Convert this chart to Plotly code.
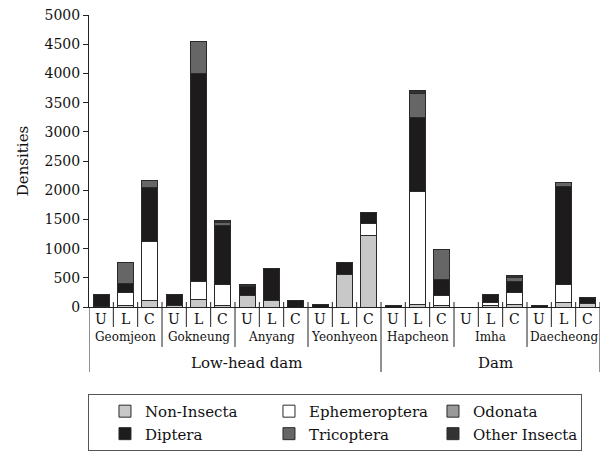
import plotly.graph_objects as go

# ---- data ----
sites = ["Geomjeon", "Gokneung", "Anyang", "Yeonhyeon", "Hapcheon", "Imha", "Daecheong"]
positions = ["U", "L", "C"]
groups = ["Low-head dam", "Dam"]
group_sites = [4, 3]  # number of sites in each group

non_insecta   = [15, 30, 103, 25, 120, 20, 194, 103, 0, 0, 564, 1226, 0, 51, 20, 0, 30, 51, 0, 80, 68]
ephemeroptera = [0, 210, 1026, 0, 325, 368, 0, 0, 0, 0, 0, 199, 0, 1922, 174, 0, 50, 200, 0, 308, 0]
odonata       = [0] * 21
diptera       = [207, 170, 912, 186, 3558, 1010, 160, 553, 103, 51, 206, 194, 20, 1265, 279, 0, 142, 194, 20, 1670, 92]
tricoptera    = [0, 360, 126, 0, 535, 50, 0, 0, 0, 0, 0, 0, 0, 417, 514, 0, 0, 68, 0, 69, 0]
other_insecta = [0, 0, 0, 0, 0, 30, 34, 0, 0, 0, 0, 0, 0, 45, 0, 0, 0, 29, 0, 0, 0]

series = [
    ("Non-Insecta", non_insecta, "#c8c8c8"),
    ("Ephemeroptera", ephemeroptera, "#ffffff"),
    ("Odonata", odonata, "#999999"),
    ("Diptera", diptera, "#1e1b1c"),
    ("Tricoptera", tricoptera, "#666666"),
    ("Other Insecta", other_insecta, "#333333"),
]

FONT = "DejaVu Serif"
n = len(sites) * len(positions)
xs = list(range(n))

fig = go.Figure()
for name, vals, col in series:
    fig.add_trace(go.Bar(
        x=xs, y=vals, name=name, width=0.66,
        marker=dict(color=col, line=dict(color="#2a2a2a", width=1)),
    ))

H = 292.3  # plot height in px


def py(p):
    return (307 - p) / H


shapes = []
annotations = []
site_bounds = set()
group_bounds = {-0.5}
k = 0
for g, cnt in zip(groups, group_sites):
    k += cnt * 3
    group_bounds.add(k - 0.5)
for s in range(1, len(sites)):
    site_bounds.add(s * 3 - 0.5)

for b in [i - 0.5 for i in range(n + 1)]:
    if b in group_bounds:
        y0, y1 = (py(302) if b != -0.5 else 0), py(372)
    elif b in site_bounds:
        y0, y1 = py(302), py(347)
    else:
        y0, y1 = py(302), py(327)
    shapes.append(dict(type="line", xref="x", yref="paper", x0=b, x1=b, y0=y0, y1=y1,
                       line=dict(color="#222222", width=1)))

for i in range(n):
    annotations.append(dict(x=i, y=py(319), xref="x", yref="paper", text=positions[i % 3],
                            showarrow=False, font=dict(family=FONT, size=14, color="#111"),
                            xanchor="center", yanchor="middle"))
for si, s in enumerate(sites):
    annotations.append(dict(x=si * 3 + 1, y=py(337), xref="x", yref="paper", text=s,
                            showarrow=False, font=dict(family=FONT, size=12, color="#111"),
                            xanchor="center", yanchor="middle"))
group_x = [6.0, 16.2]
for gx, g in zip(group_x, groups):
    annotations.append(dict(x=gx, y=py(363), xref="x", yref="paper", text=g,
                            showarrow=False, font=dict(family=FONT, size=15, color="#111"),
                            xanchor="center", yanchor="middle"))

fig.update_layout(
    width=605, height=455,
    margin=dict(l=89, r=5, t=15, b=148, autoexpand=False),
    barmode="stack",
    plot_bgcolor="white", paper_bgcolor="white",
    font=dict(family=FONT, size=14, color="#111"),
    showlegend=True,
    legend=dict(
        orientation="h", x=-0.002, y=py(394), xanchor="left", yanchor="top",
        bordercolor="#555555", borderwidth=1,
        font=dict(family=FONT, size=15, color="#111"),
        entrywidth=103, entrywidthmode="pixels",
        itemwidth=30, indentation=16,
        traceorder="normal",
    ),
    xaxis=dict(range=[-0.5, n - 0.5], showticklabels=False, ticks="", showgrid=False,
               zeroline=False, showline=True, linecolor="#222222", linewidth=1, automargin=False),
    yaxis=dict(range=[0, 5000], dtick=500, ticks="outside", ticklen=5, tickcolor="#222222",
               showgrid=False, zeroline=False, showline=True, linecolor="#222222", linewidth=1,
               automargin=False,
               title=dict(text="Densities", font=dict(family=FONT, size=15), standoff=12),
               tickfont=dict(family=FONT, size=14)),
    shapes=shapes,
    annotations=annotations,
)

fig.write_html("out.html", config={"displayModeBar": False},
               post_script="document.body.style.margin='0';")
